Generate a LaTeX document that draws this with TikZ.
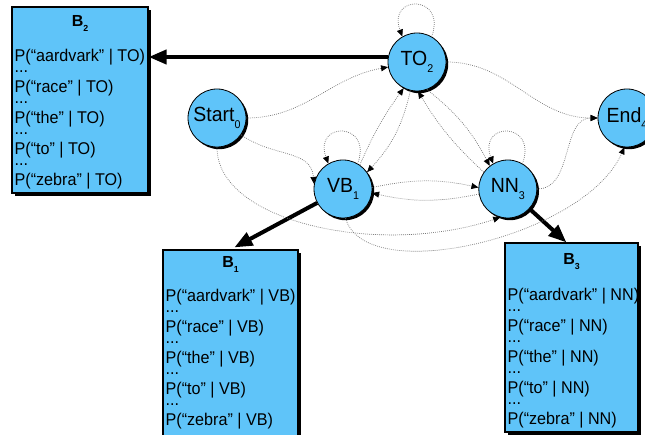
\documentclass[tikz,border=0pt]{standalone}
\usepackage{fontspec}
\setmainfont{Liberation Sans}
\newfontfamily\boxfont[FakeStretch=0.95]{Liberation Sans}
\newfontfamily\statefont[FakeStretch=0.95]{Liberation Sans}
\usepackage{graphicx}
\usetikzlibrary{positioning,arrows.meta,shadows}
\definecolor{stateblue}{RGB}{95,196,249}
\definecolor{dotgray}{RGB}{120,120,120}
\newcommand{\ssub}[1]{\raisebox{-0.6ex}{\scalebox{0.55}{#1}}}

\begin{document}
\begin{tikzpicture}[x=1pt, y=1pt,
    hstate/.style={circle, draw=black, line width=0.8pt, fill=stateblue,
                   minimum size=58pt, inner sep=0pt, font=\statefont\fontsize{20.5}{20.5}\selectfont,
                   drop shadow={shadow xshift=2.2pt, shadow yshift=-2.2pt, fill=black, opacity=1}},
    obsbox/.style={draw=black, line width=1.2pt, fill=stateblue,
                   drop shadow={shadow xshift=3pt, shadow yshift=-3pt, fill=black, opacity=1}},
    obshead/.style={anchor=base, inner sep=0pt, font=\fontsize{16}{16}\selectfont\bfseries},
    obstext/.style={anchor=north west, inner sep=0pt, align=left, font=\boxfont\fontsize{17}{17}\selectfont},
    trans/.style={draw=dotgray, line width=0.7pt, dash pattern=on 0.8pt off 1.2pt,
                  -{Triangle[length=7pt, width=6pt, color=black, fill=black]}},
    emitarr/.style={line width=4pt, -{Triangle[length=18pt, width=14pt]}}
  ]
  \useasboundingbox (0,0) rectangle (645,434);

  %% ---- States (Start, VB, TO, NN, End)
  \node[hstate] (Start) at (217,316) {Start\ssub{0}};
  \node[hstate] (TO2)   at (417,372) {TO\ssub{2}};
  \node[hstate] (VB1)   at (343,245) {VB\ssub{1}};
  \node[hstate, right=106pt of VB1] (NN3) {NN\ssub{3}};
  \node[hstate] (End4)  at (627,316) {End\ssub{4}};

  %% ---- Observation likelihood boxes
  \node[obsbox, minimum width=136pt, minimum height=186pt] (B2) at (80,334) {};
  \node[obshead] (B2h) at ([yshift=-20pt]B2.north) {B\ssub{2}};
  \node[obstext] (B2t) at ([xshift=3pt,yshift=-42.6pt]B2.north west)
    {P(“aardvark” | TO)\\[-6pt] ...\\[3pt] P(“race” | TO)\\[-6pt] ...\\[3pt]
     P(“the” | TO)\\[-6pt] ...\\[3pt] P(“to” | TO)\\[-6pt] ...\\[3pt] P(“zebra” | TO)};

  \node[obsbox, minimum width=135pt, minimum height=195pt] (B1) at (230.5,86.5) {};
  \node[obshead] (B1h) at ([yshift=-18pt]B1.north) {B\ssub{1}};
  \node[obstext] (B1t) at ([xshift=3pt,yshift=-39.6pt]B1.north west)
    {P(“aardvark” | VB)\\[-6pt] ...\\[3pt] P(“race” | VB)\\[-6pt] ...\\[3pt]
     P(“the” | VB)\\[-6pt] ...\\[3pt] P(“to” | VB)\\[-6pt] ...\\[3pt] P(“zebra” | VB)};

  \node[obsbox, minimum width=133pt, minimum height=189pt] (B3) at (571.5,96.5) {};
  \node[obshead] (B3h) at ([yshift=-22pt]B3.north) {B\ssub{3}};
  \node[obstext] (B3t) at ([xshift=3pt,yshift=-45.6pt]B3.north west)
    {P(“aardvark” | NN)\\[-6pt] ...\\[3pt] P(“race” | NN)\\[-6pt] ...\\[3pt]
     P(“the” | NN)\\[-6pt] ...\\[3pt] P(“to” | NN)\\[-6pt] ...\\[3pt] P(“zebra” | NN)};

  %% ---- Emission arrows (thick)
  \coordinate (toarr) at ([yshift=5pt]TO2.west);
  \draw[emitarr] (toarr) -- (toarr -| B2.east);
  \draw[emitarr] (VB1) -- ([xshift=72pt,yshift=2pt]B1.north west);
  \draw[emitarr] (NN3) -- ([xshift=62pt]B3.north west);

  %% ---- Transitions out of Start
  \draw[trans] (Start) to[out=0, in=190] (TO2);
  \draw[trans] (Start.-35) .. controls +(-35:40) and +(95:35) .. (VB1.170);
  \draw[trans] (Start.south) .. controls +(0,-75) and +(-120,-40) .. (NN3.-105);

  %% ---- Transitions out of VB
  \draw[trans] (VB1.60) .. controls +(70:45) and +(110:45) .. (VB1.120);
  \draw[trans] (VB1.55) to[bend left=6] (TO2.243);
  \draw[trans] (VB1.3) to[bend left=12] (NN3.177);
  \draw[trans] (VB1.-85) .. controls +(20,-70) and +(-40,-90) .. (End4.-95);

  %% ---- Transitions out of TO
  \draw[trans] (TO2.60) .. controls +(70:45) and +(110:45) .. (TO2.120);
  \draw[trans] (TO2.257) to[bend left=15] (VB1.35);
  \draw[trans] (TO2.-70) to[bend left=12] (NN3.128);
  \draw[trans] (TO2) to[out=0, in=180] (End4);

  %% ---- Transitions out of NN
  \draw[trans] (NN3.60) .. controls +(70:45) and +(110:45) .. (NN3.120);
  \draw[trans] (NN3.190) to[bend left=12] (VB1.-8);
  \draw[trans] (NN3.145) to[bend left=8] (TO2.-88);
  \draw[trans] (NN3) to[out=0, in=180] (End4);
\end{tikzpicture}
\end{document}
